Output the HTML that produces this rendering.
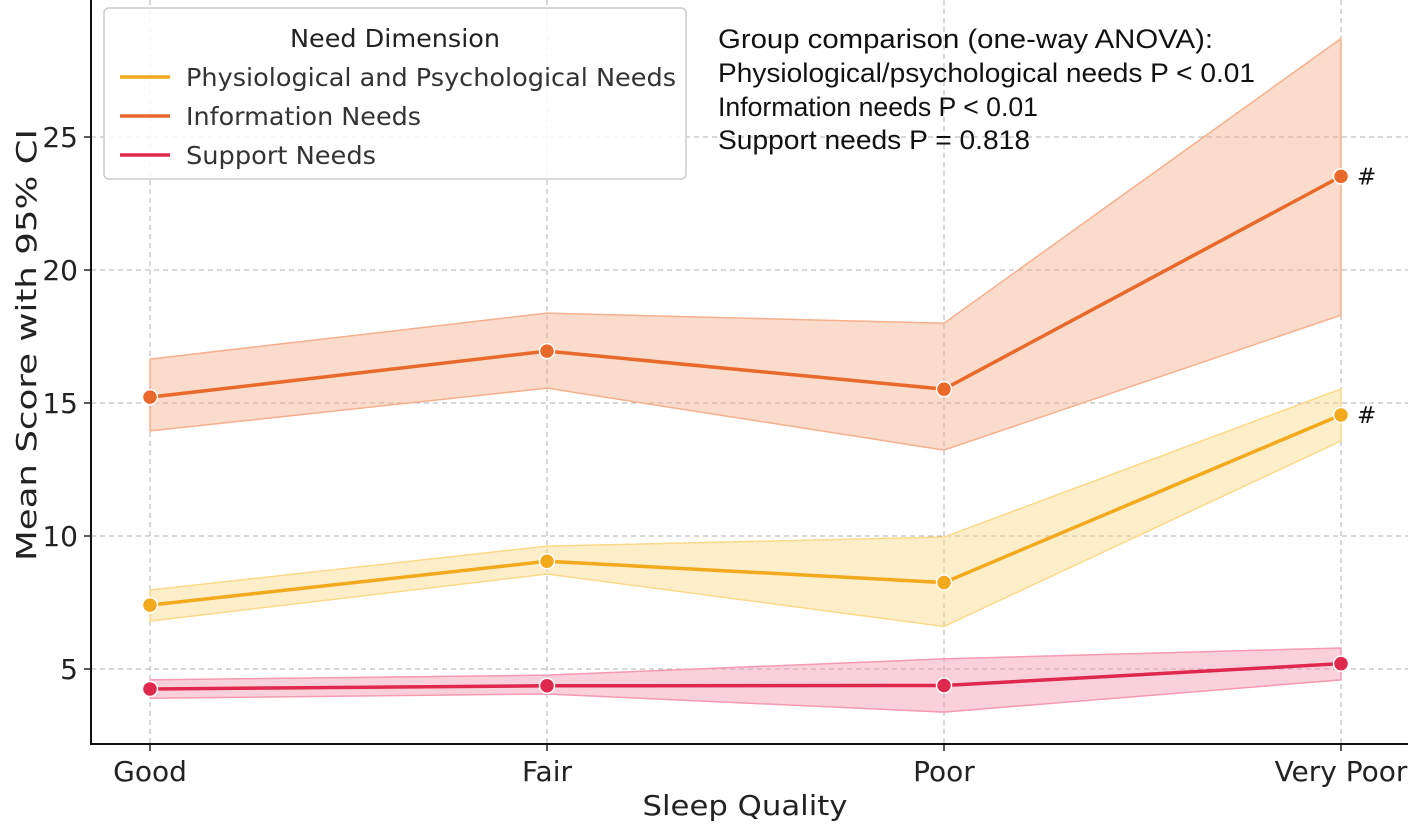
<!DOCTYPE html>
<html><head><meta charset="utf-8"><style>
body{margin:0;background:#fff}
svg text{font-family:"DejaVu Sans","Liberation Sans",sans-serif}
svg text.arial{font-family:"Liberation Sans","DejaVu Sans",sans-serif}
</style></head><body>
<svg id="chart" width="1417" height="825" xmlns="http://www.w3.org/2000/svg">
<g id="grid"></g><g id="bands"></g><g id="lines"></g><g id="axes"></g>
<g>
<rect x="104" y="8" width="582" height="171" rx="5" fill="#fff" fill-opacity="0.85" stroke="#ccc" stroke-width="1.5"/>
<text x="395" y="47" font-size="25" text-anchor="middle" fill="#222" textLength="210" lengthAdjust="spacingAndGlyphs">Need Dimension</text>
<line x1="120" y1="77" x2="170" y2="77" stroke="#f2a91c" stroke-width="3.5"/>
<text x="186" y="86" font-size="25" fill="#333" textLength="490" lengthAdjust="spacingAndGlyphs">Physiological and Psychological Needs</text>
<line x1="120" y1="116" x2="170" y2="116" stroke="#e8692a" stroke-width="3.5"/>
<text x="186" y="125" font-size="25" fill="#333" textLength="235" lengthAdjust="spacingAndGlyphs">Information Needs</text>
<line x1="120" y1="155" x2="170" y2="155" stroke="#e0284f" stroke-width="3.5"/>
<text x="186" y="164" font-size="25" fill="#333" textLength="190" lengthAdjust="spacingAndGlyphs">Support Needs</text>
</g>
<g font-size="27" fill="#111">
<text class="arial" x="718" y="48" textLength="495" lengthAdjust="spacingAndGlyphs">Group comparison (one-way ANOVA):</text>
<text class="arial" x="718" y="82" textLength="537" lengthAdjust="spacingAndGlyphs">Physiological/psychological needs P &lt; 0.01</text>
<text class="arial" x="718" y="116" textLength="320" lengthAdjust="spacingAndGlyphs">Information needs P &lt; 0.01</text>
<text class="arial" x="718" y="149" textLength="312" lengthAdjust="spacingAndGlyphs">Support needs P = 0.818</text>
</g>
<text x="745" y="815" font-size="28" text-anchor="middle" fill="#222" textLength="205" lengthAdjust="spacingAndGlyphs">Sleep Quality</text>
<text transform="translate(36,345) rotate(-90)" font-size="28" text-anchor="middle" fill="#222" textLength="432" lengthAdjust="spacingAndGlyphs">Mean Score with 95% CI</text>
</svg>
<script>
const categories=["Good","Fair","Poor","Very Poor"];
const yTicks=[5,10,15,20,25];
const physMean=[7.4,9.05,8.25,14.55];
const physLow=[6.8,8.57,6.6,13.57];
const physHigh=[7.97,9.62,9.96,15.53];
const infoMean=[15.22,16.95,15.52,23.52];
const infoLow=[13.95,15.56,13.23,18.3];
const infoHigh=[16.65,18.38,18.0,28.7];
const suppMean=[4.25,4.37,4.38,5.2];
const suppLow=[3.9,4.06,3.38,4.59];
const suppHigh=[4.59,4.77,5.38,5.79];
const marks=[null,null,null,"#"];
const NS="http://www.w3.org/2000/svg";
function xs(i){return 150+i*397;}
function ys(v){return 669-(v-5)*26.6;}
function mk(parent,tag,attrs){const e=document.createElementNS(NS,tag);for(const k in attrs)e.setAttribute(k,attrs[k]);document.getElementById(parent).appendChild(e);return e;}
categories.forEach((c,i)=>{
 const l=mk('grid','line',{x1:xs(i),x2:xs(i),y1:0,y2:744,stroke:'#b0b0b0','stroke-dasharray':'5,4','stroke-width':1});
 
 
 const t=mk('axes','text',{x:xs(i),y:781,'font-size':28,'text-anchor':'middle',fill:'#222'});t.textContent=c;
 
 
 mk('axes','line',{x1:xs(i),x2:xs(i),y1:744,y2:751,stroke:'#222','stroke-width':1.5});
});
yTicks.forEach(v=>{
 const l=mk('grid','line',{x1:91,x2:1408,y1:ys(v),y2:ys(v),stroke:'#b0b0b0','stroke-dasharray':'5,4','stroke-width':1});
 
 
 const t=mk('axes','text',{x:78,y:ys(v)+10,'font-size':28,'text-anchor':'end',fill:'#222'});t.textContent=v;
 
 
 mk('axes','line',{x1:84,x2:91,y1:ys(v),y2:ys(v),stroke:'#222','stroke-width':1.5});
});
const ax=mk('axes','path',{d:'M91,0 V744 H1408',fill:'none',stroke:'#111','stroke-width':2});


const series=[
 {name:'information',m:infoMean,lo:infoLow,hi:infoHigh,c:'#e8692a',f:'#f5b08d',hash:true},
 {name:'physiological',m:physMean,lo:physLow,hi:physHigh,c:'#f2a91c',f:'#fbd98a',hash:true},
 {name:'support',m:suppMean,lo:suppLow,hi:suppHigh,c:'#e0284f',f:'#f59ab0',hash:false}];
series.forEach(s=>{
 let d=s.hi.map((v,i)=>(i?'L':'M')+xs(i)+','+ys(v)).join(' ');
 for(let i=s.lo.length-1;i>=0;i--)d+=' L'+xs(i)+','+ys(s.lo[i]);
 const b=mk('bands','path',{d:d+'Z',fill:s.f,'fill-opacity':0.45,stroke:s.f,'stroke-width':1.5});
 
 
 const p=mk('lines','path',{d:s.m.map((v,i)=>(i?'L':'M')+xs(i)+','+ys(v)).join(' '),fill:'none',stroke:s.c,'stroke-width':3.5});
 
 
 s.m.forEach((v,i)=>{
  const c=mk('lines','circle',{cx:xs(i),cy:ys(v),r:7.5,fill:s.c,stroke:'#fff','stroke-width':1.5});
  
  
  if(s.hash&&marks[i]){const t=mk('lines','text',{x:xs(i)+16,y:ys(v)+8,'font-size':23,fill:'#111'});t.textContent=marks[i];
   
   }
 });
});
</script>
</body></html>
